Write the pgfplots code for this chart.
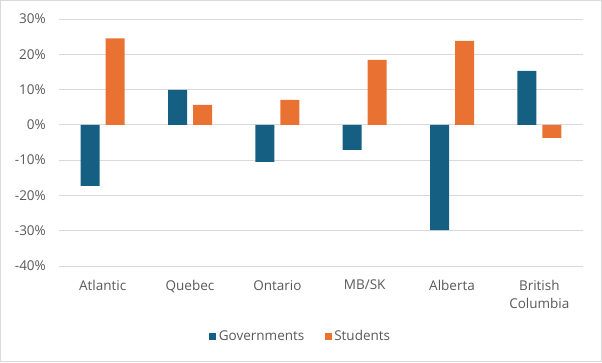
\documentclass[border=0pt]{standalone}
\usepackage{pgfplots}
\pgfplotsset{compat=1.18}
\usepackage{fontspec}
\setmainfont{Open Sans}
\definecolor{gov}{HTML}{156082}
\definecolor{stu}{HTML}{E97132}
\definecolor{txt}{HTML}{595959}
\definecolor{gridc}{HTML}{D9D9D9}
\begin{document}
\begin{tikzpicture}[x=1pt,y=1pt]
\useasboundingbox (0,0) rectangle (602,362);
\draw[gridc, line width=1.2pt] (0.6,0.6) rectangle (601.4,361.4);
\begin{axis}[at={(59pt,96pt)}, anchor=south west, scale only axis,
  width=524pt, height=247pt,
  xmin=-0.5, xmax=5.5, ymin=-40, ymax=30,
  ytick={-40,-30,-20,-10,0,10,20,30},
  yticklabels={-40\%,-30\%,-20\%,-10\%,0\%,10\%,20\%,30\%},
  xtick={0,1,2,3,4,5},
  xticklabels={Atlantic,Quebec,Ontario,MB/SK,Alberta,{British\\Columbia}},
  xticklabel style={align=center, text=txt, font=\fontsize{13.5}{18}\selectfont, inner sep=0pt, anchor=north, yshift=-14pt},
  yticklabel style={text=txt, font=\fontsize{13.5}{16}\selectfont, inner sep=0pt, anchor=east, xshift=-13pt},
  axis line style={draw=none},
  major tick length=0pt,
  ymajorgrids,
  grid style={gridc, line width=1pt},
  legend columns=2,
  legend style={at={(0.4618,-0.2834)}, anchor=center, draw=none, fill=none,
    font=\fontsize{13.5}{16}\selectfont, text=txt,
    nodes={inner xsep=2.5pt},
    /tikz/every even column/.append style={column sep=18pt}},
  legend image code/.code={\fill[#1] (0pt,-3.5pt) rectangle (7pt,3.5pt);},
]
\addplot[ybar, bar width=19pt, bar shift=-12.5pt, fill=gov, draw=none]
  coordinates {(0,-17.3) (1,9.9) (2,-10.5) (3,-7.1) (4,-29.8) (5,15.3)};
\addlegendentry{Governments}
\addplot[ybar, bar width=19pt, bar shift=12.5pt, fill=stu, draw=none]
  coordinates {(0,24.5) (1,5.7) (2,7.1) (3,18.4) (4,23.8) (5,-3.7)};
\addlegendentry{Students}
\end{axis}
\end{tikzpicture}
\end{document}
